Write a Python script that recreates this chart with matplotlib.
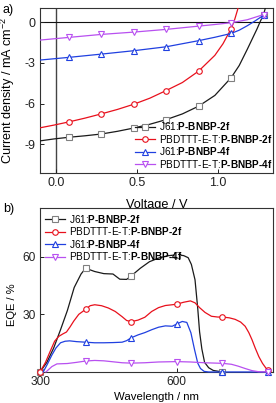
import matplotlib
matplotlib.use("Agg")
import matplotlib.pyplot as plt

plt.rcParams['font.family'] = ['Liberation Sans', 'DejaVu Sans']
plt.rcParams['mathtext.fontset'] = 'custom'
plt.rcParams['mathtext.rm'] = 'Liberation Sans'
plt.rcParams['mathtext.bf'] = 'Liberation Sans:bold'
plt.rcParams['mathtext.it'] = 'Liberation Sans:italic'
plt.rcParams['axes.unicode_minus'] = False

# ---- panel a: J-V curves
labels = ['J61:$\\mathbf{P\u2010BNBP\u20102f}$',
          'PBDTTT-E-T:$\\mathbf{P\u2010BNBP\u20102f}$',
          'J61:$\\mathbf{P\u2010BNBP\u20104f}$',
          'PBDTTT-E-T:$\\mathbf{P\u2010BNBP\u20104f}$']
colors = ['#1a1a1a', '#e8101c', '#2040e0', '#b850f0']
mec = ['#808080', '#e8101c', '#2040e0', '#b850f0']
markers = ['s', 'o', '^', 'v']

mark_v = [0.08, 0.28, 0.48, 0.68, 0.88, 1.08, 1.28]

v_j61_2f = [-0.1, -0.01, 0.08, 0.18, 0.28, 0.38, 0.48, 0.58, 0.68, 0.78, 0.88, 0.98, 1.08, 1.13, 1.18, 1.22, 1.24, 1.26, 1.28, 1.295]
j_j61_2f = [-8.75, -8.6, -8.48, -8.37, -8.24, -8.04, -7.8, -7.52, -7.18, -6.76, -6.19, -5.4, -4.1, -3.2, -2.0, -1.0, -0.5, 0.05, 0.55, 1.2]

v_pbd_2f = [-0.1, -0.01, 0.08, 0.18, 0.28, 0.38, 0.48, 0.58, 0.68, 0.78, 0.88, 0.98, 1.03, 1.08, 1.10, 1.12, 1.13]
j_pbd_2f = [-7.79, -7.58, -7.35, -7.07, -6.76, -6.43, -6.05, -5.6, -5.04, -4.45, -3.61, -2.45, -1.6, -0.5, 0.1, 0.9, 1.4]

v_j61_4f = [-0.1, 0.08, 0.28, 0.48, 0.68, 0.88, 0.98, 1.08, 1.13, 1.18, 1.23, 1.28]
j_j61_4f = [-2.8, -2.6, -2.36, -2.11, -1.82, -1.37, -1.12, -0.84, -0.6, -0.27, 0.1, 0.5]

v_pbd_4f = [-0.1, 0.08, 0.28, 0.48, 0.68, 0.88, 0.98, 1.08, 1.18, 1.28]
j_pbd_4f = [-1.33, -1.13, -0.91, -0.74, -0.54, -0.3, -0.18, -0.05, 0.17, 0.55]

# ---- panel b: EQE spectra
mark_wl = [300, 400, 500, 600, 700, 800]

wl_j61_2f = [300, 315, 330, 345, 360, 375, 390, 400, 420, 440, 460, 475, 490, 500, 520, 540, 560, 580, 600,
             615, 625, 632, 640, 646, 650, 655, 661, 670, 680, 700]
eqe_j61_2f = [0, 5, 12.5, 22, 32, 44, 51, 54, 52.3, 51.2, 51.0, 48.3, 48.2, 50, 54, 57.4, 59.3, 60.5, 61,
              60.6, 59.5, 56, 48, 33, 21, 12, 5, 2.2, 0.8, 0]

wl_pbd_2f = [300, 312, 322, 332, 341, 350, 358, 366, 374, 385, 400, 410, 420, 435, 450, 465, 480, 490, 500,
             515, 530, 545, 560, 575, 590, 600, 615, 630, 640, 650, 662, 676, 690, 700, 715, 728, 740, 750,
             758, 765, 772, 780, 788, 795, 800]
eqe_pbd_2f = [0, 5, 10.6, 16, 18.5, 19.8, 20.8, 23.5, 26.5, 30, 32.6, 34.5, 35, 34.5, 33.3, 31.5, 28.8, 26.8, 26.2,
              27, 28.5, 31.5, 33.5, 34.6, 35, 35.3, 36.3, 37, 36, 33.5, 31, 29, 28.6, 28.6, 28.2, 27.4, 26, 23.8,
              20.5, 16.8, 12.5, 8, 4.5, 2.2, 0.8]

wl_j61_4f = [307, 316, 326, 335, 345, 355, 365, 380, 400, 420, 440, 460, 480, 490, 500, 515, 530, 545, 560, 575,
             590, 600, 612, 622, 631, 639, 646, 652, 660, 670, 700, 800]
eqe_j61_4f = [0, 4, 8.8, 12.5, 15.2, 16, 16.2, 15.8, 15.5, 15.2, 15.2, 15.3, 15.5, 16.3, 17.8, 19.3, 20.5, 22, 23.3, 24,
              23.8, 25, 26.3, 25.8, 20.4, 11.6, 4.6, 1.8, 0.3, 0, 0, 0]

wl_pbd_4f = [313, 320, 326, 337, 360, 380, 400, 420, 440, 460, 480, 500, 530, 560, 600, 630, 660, 700, 720, 735,
             750, 765, 780, 800]
eqe_pbd_4f = [0, 1.5, 2.8, 4.2, 4.4, 5, 5.7, 6, 5.8, 5.3, 4.8, 4.6, 4.8, 5.2, 5.4, 5.2, 4.8, 4.5, 4, 3, 1.8,
              0.7, 0.1, 0]

jv = [(v_j61_2f, j_j61_2f), (v_pbd_2f, j_pbd_2f), (v_j61_4f, j_j61_4f), (v_pbd_4f, j_pbd_4f)]
eqe = [(wl_j61_2f, eqe_j61_2f), (wl_pbd_2f, eqe_pbd_2f), (wl_j61_4f, eqe_j61_4f), (wl_pbd_4f, eqe_pbd_4f)]

fig = plt.figure(figsize=(2.76, 4.03), dpi=100)
ax1 = fig.add_axes([0.145, 0.571, 0.844, 0.408])
ax2 = fig.add_axes([0.145, 0.077, 0.844, 0.407])


def style(ax, size):
    for s in ax.spines.values():
        s.set_color('#333333')
        s.set_linewidth(0.8)
    ax.tick_params(direction='in', length=3, width=0.7, labelsize=size, pad=3, colors='#222222')


ax1.axvline(0, color='#444444', lw=1.0, zorder=1)
ax1.axhline(0, color='#111111', lw=0.8, zorder=1)
for (x, y), c, mc, m, lab in zip(jv, colors, mec, markers, labels):
    idx = [i for i, v in enumerate(x) if v in mark_v]
    ax1.plot(x, y, color=c, lw=0.9, marker=m, markevery=idx, ms=4, mfc='white', mec=mc, mew=0.8,
             label=lab, zorder=3)
ax1.set_xlim(-0.097, 1.338)
ax1.set_ylim(-11.1, 1.0)
ax1.set_xticks([0.0, 0.5, 1.0])
ax1.set_xticklabels(['0.0', '0.5', '1.0'])
ax1.set_yticks([0, -3, -6, -9])
ax1.set_xlabel('Voltage / V', fontsize=9.2)
ax1.set_ylabel('Current density / mA cm$^{-2}$', fontsize=9.1)
ax1.yaxis.set_label_coords(-0.1, 0.5)
ax1.xaxis.set_label_coords(0.5, -0.16)
style(ax1, 9)
ax1.legend(loc='lower right', bbox_to_anchor=(1.01, 0.0), frameon=False, fontsize=7.2,
           handlelength=2.0, handletextpad=0.4, labelspacing=0.05, borderpad=0.2, borderaxespad=0.1)

for (x, y), c, mc, m, lab in zip(eqe, colors, mec, markers, labels):
    idx = [i for i, w in enumerate(x) if w in mark_wl]
    ax2.plot(x, y, color=c, lw=0.9, marker=m, markevery=idx, ms=4, mfc='white', mec=mc, mew=0.8,
             label=lab, zorder=3, clip_on=False)
ax2.set_xlim(300, 811)
ax2.set_ylim(0, 85.4)
ax2.set_xticks([300, 600])
ax2.set_yticks([30, 60])
ax2.set_xlabel('Wavelength / nm', fontsize=8.2)
ax2.set_ylabel('EQE / %', fontsize=8)
ax2.yaxis.set_label_coords(-0.1, 0.41)
ax2.xaxis.set_label_coords(0.5, -0.12)
style(ax2, 8.6)
ax2.legend(loc='upper left', bbox_to_anchor=(0.0, 1.0), frameon=False, fontsize=7.2,
           handlelength=2.0, handletextpad=0.4, labelspacing=0.05, borderpad=0.3, borderaxespad=0.2)

fig.text(0.01, 0.99, 'a)', fontsize=9, va='top', ha='left')
fig.text(0.01, 0.497, 'b)', fontsize=9, va='top', ha='left')

fig.savefig('out.png', dpi=100)
